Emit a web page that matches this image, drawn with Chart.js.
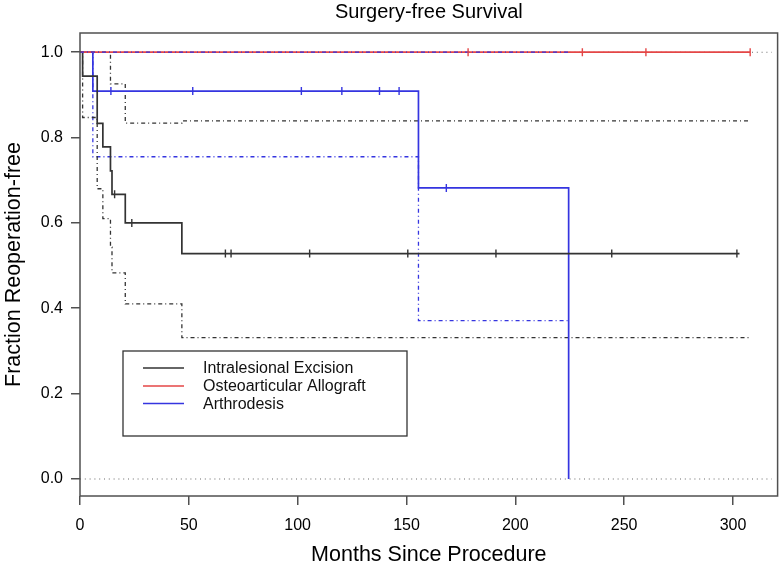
<!DOCTYPE html>
<html>
<head>
<meta charset="utf-8">
<script src="https://cdn.jsdelivr.net/npm/chart.js@4.4.1/dist/chart.umd.min.js"></script>
<style>
  html, body { margin: 0; padding: 0; background: #fff; }
  canvas { display: block; }
</style>
</head>
<body>
<canvas id="chart" width="783" height="565"></canvas>
<script>
const chartTitle = 'Surgery-free Survival';
const xTitle = 'Months Since Procedure';
const yTitle = 'Fraction Reoperation-free';

const seriesNames = ['Intralesional Excision', 'Osteoarticular Allograft', 'Arthrodesis'];
const seriesColors = ['#333333', '#e44646', '#3535e0'];
const ciGray = '#6a6a6a';

const xTicks = [0, 50, 100, 150, 200, 250, 300];
const yTicks = [0, 0.2, 0.4, 0.6, 0.8, 1.0];

// Intralesional Excision (curva + intervalo de confiança)
const excTime = [0, 1.2, 7.9, 10.5, 14.0, 14.7, 20.8, 46.8, 303];
const excSurv = [1.0, 0.944, 0.833, 0.778, 0.722, 0.667, 0.600, 0.528, 0.528];
const excCensorTime = [15.9, 23.8, 66.8, 69.4, 105.5, 150.6, 191.1, 244.3, 301.8];
const excCensorSurv = [0.667, 0.600, 0.528, 0.528, 0.528, 0.528, 0.528, 0.528, 0.528];
const excUpperTime = [0, 14.0, 20.8, 46.8, 308];
const excUpper = [1.0, 0.926, 0.834, 0.839, 0.839];
const excLowerTime = [0, 1.2, 7.9, 10.5, 14.0, 14.7, 20.8, 46.8, 308];
const excLower = [1.0, 0.847, 0.680, 0.610, 0.543, 0.483, 0.410, 0.331, 0.331];

// Osteoarticular Allograft
const alloTime = [0, 307.9];
const alloSurv = [1.0, 1.0];
const alloCensorTime = [178.3, 230.8, 260.0, 307.9];
const alloCensorSurv = [1.0, 1.0, 1.0, 1.0];
const alloCiTime = [0, 317.8];
const alloUpper = [1.0, 1.0];
const alloLower = [0.0, 0.0];

// Arthrodesis
const arthTime = [0, 5.9, 155.5, 224.5];
const arthSurv = [1.0, 0.909, 0.682, 0.0];
const arthCensorTime = [14.2, 51.8, 101.7, 120.3, 137.6, 146.6, 168.3];
const arthCensorSurv = [0.909, 0.909, 0.909, 0.909, 0.909, 0.909, 0.682];
const arthUpperTime = [0, 224.5];
const arthUpper = [1.0, 1.0];
const arthLowerTime = [0, 5.9, 155.5, 224.5];
const arthLower = [1.0, 0.755, 0.371, 0.371];

const fontFamily = '"Liberation Sans", Arial, Helvetica, sans-serif';
const dotDash = [4, 3, 1, 3];
const dotted = [1, 3.8];

function pts(xs, ys) {
    return xs.map((x, i) => ({ x: x, y: ys[i] }));
}

// curva em degraus
function stepLine(xs, ys, color, dash, width, order) {
    return {
        data: pts(xs, ys),
        borderColor: color,
        borderWidth: width,
        borderDash: dash,
        stepped: true,
        pointRadius: 0,
        fill: false,
        order: order
    };
}

// marcas de censura (tracinhos verticais)
function censorMarks(xs, ys, color) {
    return {
        data: pts(xs, ys),
        showLine: false,
        pointStyle: 'line',
        pointRotation: 90,
        pointRadius: 4,
        pointBorderWidth: 1.4,
        pointBorderColor: color,
        borderColor: color,
        order: 0
    };
}

const decorations = {
    id: 'decorations',
    afterDraw(chart) {
        const { ctx, chartArea: a } = chart;
        ctx.save();

        ctx.strokeStyle = '#505050';
        ctx.lineWidth = 1.5;
        ctx.strokeRect(a.left, a.top, a.right - a.left, a.bottom - a.top);

        ctx.fillStyle = '#000';
        ctx.textAlign = 'center';
        ctx.textBaseline = 'middle';
        ctx.font = '20px ' + fontFamily;
        ctx.fillText(chartTitle, (a.left + a.right) / 2, 12);
        ctx.font = '21.5px ' + fontFamily;
        ctx.fillText(xTitle, (a.left + a.right) / 2, 555);

        ctx.save();
        ctx.translate(14, (a.top + a.bottom) / 2);
        ctx.rotate(-Math.PI / 2);
        ctx.fillText(yTitle, 0, 0);
        ctx.restore();

        // legenda
        ctx.lineWidth = 1.3;
        ctx.strokeStyle = '#333';
        ctx.strokeRect(123, 351, 284, 85);
        ctx.font = '16px ' + fontFamily;
        ctx.textAlign = 'left';
        const rows = [368, 386, 403.5];
        seriesNames.forEach((name, i) => {
            ctx.strokeStyle = seriesColors[i];
            ctx.lineWidth = 1.5;
            ctx.beginPath();
            ctx.moveTo(143, rows[i]);
            ctx.lineTo(184, rows[i]);
            ctx.stroke();
            ctx.fillStyle = '#111';
            ctx.fillText(name, 203, rows[i] + 1);
        });

        ctx.restore();
    }
};

const ctx = document.getElementById('chart').getContext('2d');

new Chart(ctx, {
    type: 'line',
    data: {
        datasets: [
            censorMarks(excCensorTime, excCensorSurv, seriesColors[0]),
            censorMarks(alloCensorTime, alloCensorSurv, seriesColors[1]),
            censorMarks(arthCensorTime, arthCensorSurv, seriesColors[2]),
            stepLine(arthUpperTime, arthUpper, seriesColors[2], dotDash, 1.3, 1),
            stepLine(alloTime, alloSurv, seriesColors[1], [], 1.7, 2),
            stepLine(excTime, excSurv, seriesColors[0], [], 1.7, 3),
            stepLine(arthTime, arthSurv, seriesColors[2], [], 1.7, 3),
            stepLine(excUpperTime, excUpper, seriesColors[0], dotDash, 1.3, 4),
            stepLine(excLowerTime, excLower, seriesColors[0], dotDash, 1.3, 4),
            stepLine(arthLowerTime, arthLower, seriesColors[2], dotDash, 1.3, 4),
            stepLine(alloCiTime, alloUpper, ciGray, dotted, 1.1, 6),
            stepLine(alloCiTime, alloLower, ciGray, dotted, 1.1, 6)
        ]
    },
    plugins: [decorations],
    options: {
        responsive: false,
        animation: false,
        devicePixelRatio: 1,
        layout: { padding: { top: 33, right: 3, left: 0, bottom: 0 } },
        plugins: {
            legend: { display: false },
            tooltip: { enabled: false }
        },
        scales: {
            x: {
                type: 'linear',
                min: 0,
                max: 320.5,
                afterBuildTicks: scale => { scale.ticks = xTicks.map(v => ({ value: v })); },
                afterFit: scale => { scale.height = 69; },
                grid: { display: true, drawOnChartArea: false, drawTicks: true, tickLength: 9, color: '#505050', lineWidth: 1.5 },
                border: { display: false },
                ticks: {
                    padding: 11,
                    color: '#000',
                    maxRotation: 0,
                    autoSkip: false,
                    font: { family: fontFamily, size: 16 },
                    callback: v => String(v)
                }
            },
            y: {
                type: 'linear',
                min: -0.04,
                max: 1.045,
                afterBuildTicks: scale => { scale.ticks = yTicks.map(v => ({ value: v })); },
                afterFit: scale => { scale.width = 80; },
                grid: { display: true, drawOnChartArea: false, drawTicks: true, tickLength: 9, color: '#505050', lineWidth: 1.5 },
                border: { display: false },
                ticks: {
                    padding: 8,
                    color: '#000',
                    autoSkip: false,
                    font: { family: fontFamily, size: 16 },
                    callback: v => v.toFixed(1)
                }
            }
        }
    }
});
</script>
</body>
</html>
